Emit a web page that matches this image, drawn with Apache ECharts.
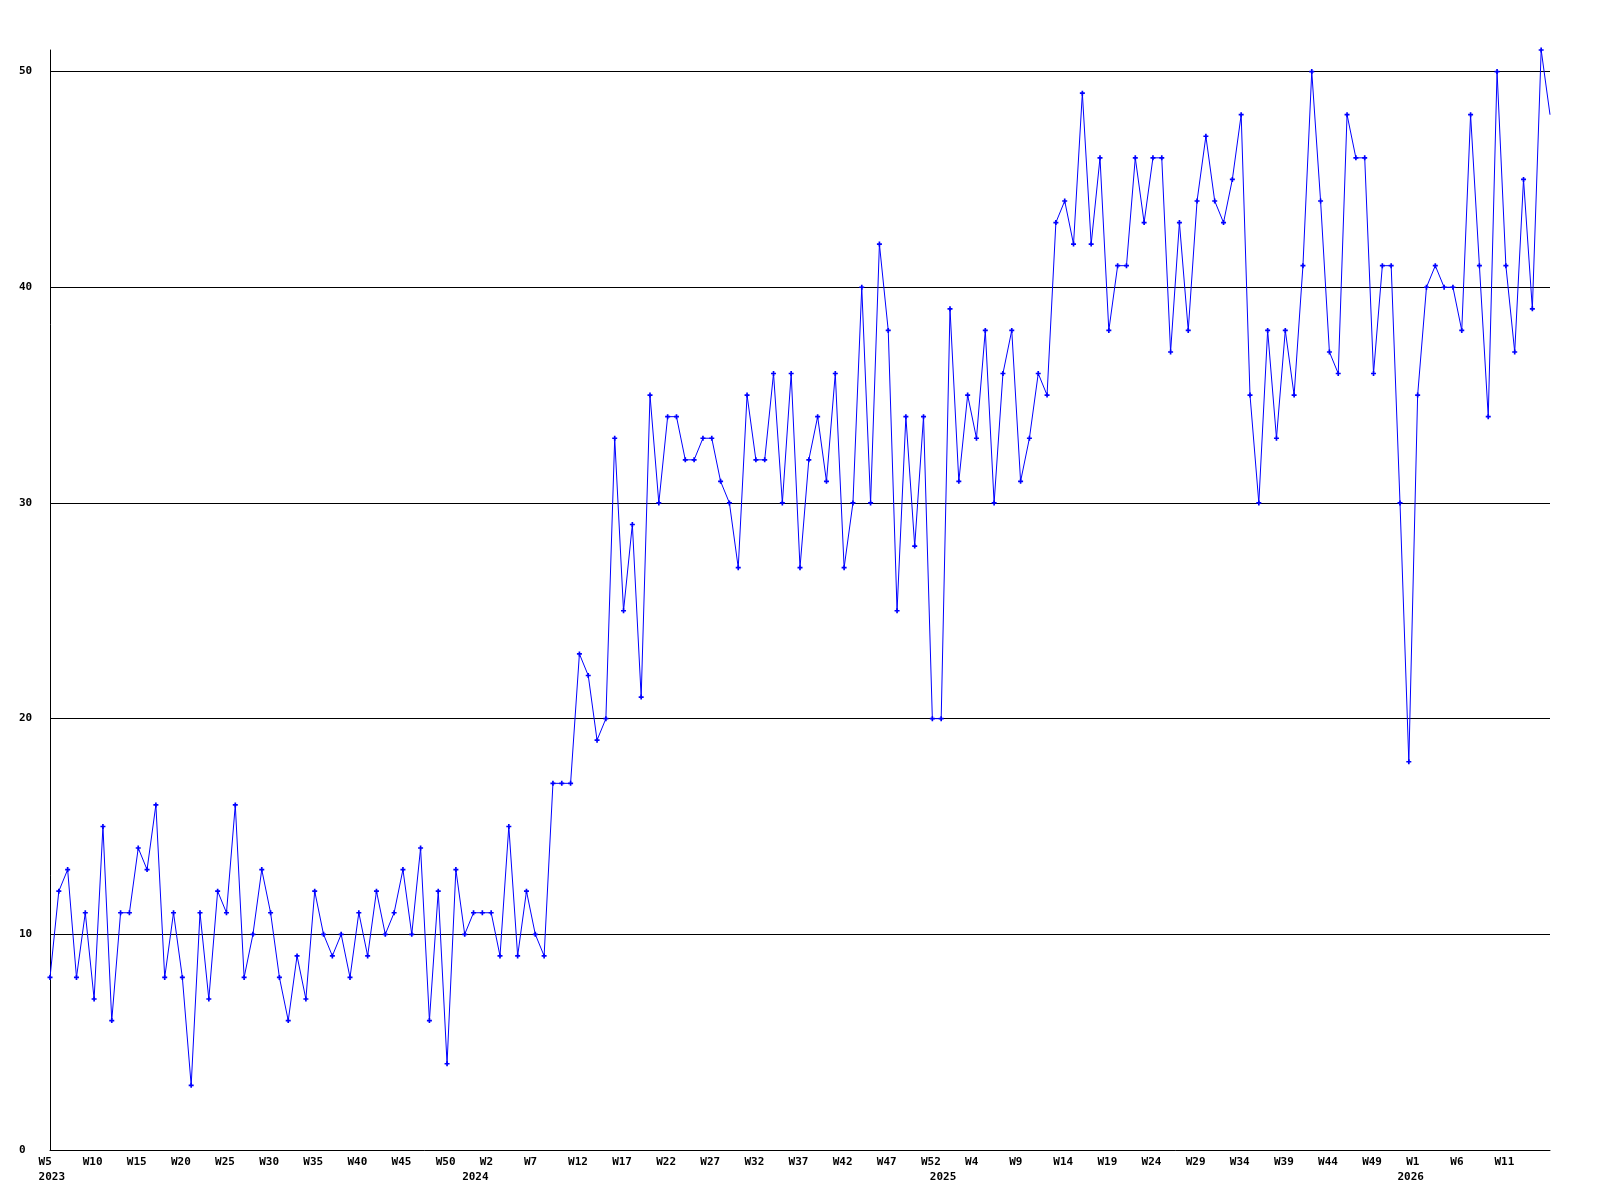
<!DOCTYPE html>
<html>
<head>
<meta charset="utf-8">
<script src="https://cdn.jsdelivr.net/npm/echarts@6/dist/echarts.min.js"></script>
<style>
html,body{margin:0;padding:0;background:#fff;}
#chart{width:1600px;height:1200px;}
</style>
</head>
<body>
<div id="chart"></div>
<script>
// Weekly values, one array per year (first week of each array given below)
const weeks2023 = [8,12,13,8,11,7,15,6,11,11,14,13,16,8,11,8,3,11,7,12,11,16,8,10,13,11,8,6,9,7,12,10,9,10,8,11,9,12,10,11,13,10,14,6,12,4,13,10];
const weeks2024 = [11,11,11,9,15,9,12,10,9,17,17,17,23,22,19,20,33,25,29,21,35,30,34,34,32,32,33,33,31,30,27,35,32,32,36,30,36,27,32,34,31,36,27,30,40,30,42,38,25,34,28,34,20];
const weeks2025 = [20,39,31,35,33,38,30,36,38,31,33,36,35,43,44,42,49,42,46,38,41,41,46,43,46,46,37,43,38,44,47,44,43,45,48,35,30,38,33,38,35,41,50,44,37,36,48,46,46,36,41,41,30];
const weeks2026 = [18,35,40,41,40,40,38,48,41,34,50,41,37,45,39,51,48];

const years = [2023, 2024, 2025, 2026];
const firstWeeks = [5, 0, 0, 0];
const yearValues = [weeks2023, weeks2024, weeks2025, weeks2026];

const yTicks = [0, 10, 20, 30, 40, 50];
const yGridValues = [10, 20, 30, 40, 50];
const yMax = 51;
const labelEvery = 5;

// Build categories and the value series
const categories = [];
const values = [];
const yearStartIdx = [];
years.forEach((y, k) => {
  yearStartIdx.push(categories.length);
  yearValues[k].forEach((v, i) => {
    categories.push(y + '-W' + (firstWeeks[k] + i));
    values.push(v);
  });
});

const FONT = 'DejaVu Sans Mono';
const richA = {
  a: { width: 22.8, align: 'left', fontFamily: FONT, fontWeight: 'bold', fontSize: 11, color: '#000', overflow: 'none' }
};

const chart = echarts.init(document.getElementById('chart'), null, { renderer: 'canvas' });
chart.setOption({
  animation: false,
  backgroundColor: '#ffffff',
  grid: { left: 50, right: 50, top: 50, bottom: 50, containLabel: false, outerBoundsMode: 'none' },
  xAxis: [
    {
      type: 'category',
      data: categories,
      boundaryGap: false,
      position: 'bottom',
      axisLine: { show: true, lineStyle: { color: '#000', width: 1 } },
      axisTick: { show: false },
      splitLine: { show: false },
      axisLabel: {
        show: true,
        hideOverlap: false,
        interval: (i) => i % labelEvery === 0 && i < categories.length - 1,
        formatter: (v) => '{a|' + v.split('-')[1] + '}',
        margin: 7,
        rich: richA
      }
    },
    {
      type: 'category',
      data: categories,
      boundaryGap: false,
      position: 'bottom',
      offset: 0,
      axisLine: { show: false },
      axisTick: { show: false },
      splitLine: { show: false },
      axisLabel: {
        show: true,
        hideOverlap: false,
        interval: (i) => yearStartIdx.indexOf(i) >= 0,
        formatter: (v) => '{a|' + v.split('-')[0] + '}',
        margin: 22,
        rich: richA
      }
    }
  ],
  yAxis: {
    type: 'value',
    min: 0,
    max: yMax,
    interval: 10,
    axisLine: { show: true, lineStyle: { color: '#000', width: 1 } },
    axisTick: { show: false },
    splitLine: { show: false },
    axisLabel: {
      show: true,
      align: 'left',
      margin: 31,
      showMaxLabel: false,
      formatter: (v) => (yTicks.indexOf(v) >= 0 ? String(v) : ''),
      fontFamily: FONT,
      fontWeight: 'bold',
      fontSize: 11,
      color: '#000'
    }
  },
  series: [
    {
      type: 'line',
      xAxisIndex: 0,
      yAxisIndex: 0,
      data: values.map((v, i) => (i === values.length - 1 ? { value: v, symbol: 'none' } : v)),
      symbol: 'path://M1,0H2V1H3V2H2V3H1V2H0V1H1Z',
      symbolSize: 5,
      showSymbol: true,
      showAllSymbol: true,
      lineStyle: { color: '#0000ff', width: 1 },
      itemStyle: { color: '#0000ff', borderWidth: 0 },
      emphasis: { disabled: true },
      z: 3,
      markLine: {
        silent: true,
        animation: false,
        symbol: ['none', 'none'],
        label: { show: false },
        lineStyle: { color: '#000', width: 1, type: 'solid' },
        emphasis: { disabled: true },
        z: 1,
        data: yGridValues.map((v) => ({ yAxis: v }))
      }
    }
  ]
});
</script>
</body>
</html>
